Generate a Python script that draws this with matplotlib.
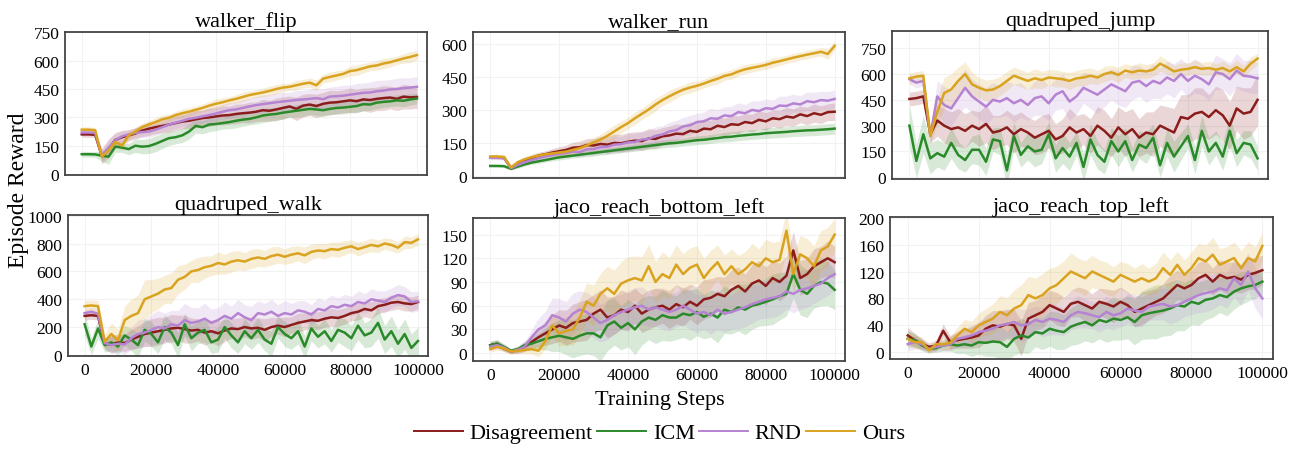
import numpy as np
import matplotlib
matplotlib.use("Agg")
import matplotlib.pyplot as plt
from matplotlib.lines import Line2D

plt.rcParams['font.family'] = ['Liberation Serif', 'DejaVu Serif']

steps = list(range(0, 100001, 2000))
methods = ['Disagreement', 'ICM', 'RND', 'Ours']
colors = {'Disagreement': '#8b1c1c', 'ICM': '#2a8a2a', 'RND': '#b683d2', 'Ours': '#d9a21f'}
tasks = ['walker_flip', 'walker_run', 'quadruped_jump',
         'quadruped_walk', 'jaco_reach_bottom_left', 'jaco_reach_top_left']

# ---- mean curves (every 2000 steps) ----
wf_dis = [210,210,208,95,135,180,195,205,215,230,240,248,255,262,270,278,282,290,296,300,305,310,312,318,322,325,330,338,335,342,350,358,345,362,368,360,372,378,380,385,390,386,395,392,398,402,405,398,410,406,408]
wf_icm = [105,105,104,97,92,145,140,132,150,145,148,160,175,190,195,205,225,255,248,262,265,270,275,282,288,292,300,310,315,318,325,330,335,340,345,342,338,345,350,352,356,360,370,368,378,382,385,390,388,395,400]
wf_rnd = [220,220,218,98,140,178,200,210,218,222,225,235,248,262,272,282,292,298,305,312,320,330,338,342,350,358,365,370,375,380,384,388,392,395,398,402,396,410,412,415,420,425,430,432,438,442,448,450,455,458,462]
wf_ours = [235,235,232,92,125,170,150,205,225,248,262,275,290,298,312,322,330,340,350,362,372,380,390,398,408,418,425,432,440,450,458,462,470,478,484,470,505,514,522,530,545,550,560,570,575,585,592,602,612,620,630]

wr_dis = [85,85,83,36,55,70,80,92,98,106,112,118,128,130,140,138,145,142,150,148,155,160,158,170,168,180,184,192,190,205,200,215,212,228,222,235,232,245,240,255,248,262,258,270,265,280,272,285,278,290,292]
wr_icm = [45,45,44,32,42,52,60,66,72,78,84,88,92,96,100,104,108,112,116,120,124,128,132,136,140,144,148,150,154,158,162,164,168,172,176,178,182,185,188,190,194,196,198,200,203,205,207,208,210,212,215]
wr_rnd = [82,82,80,35,50,62,72,80,88,94,100,104,110,108,120,122,130,132,142,144,152,154,165,168,182,188,202,208,225,230,245,248,262,260,275,272,290,285,300,295,308,305,320,318,330,325,340,335,345,342,350]
wr_ours = [88,88,86,38,62,75,85,92,98,102,106,110,118,126,138,152,165,182,202,222,240,262,282,302,325,345,362,378,392,402,410,420,432,442,455,462,475,485,492,498,505,515,522,530,538,545,552,558,565,555,592]

qj_dis = [455,460,470,250,330,300,280,290,270,300,280,310,260,270,290,250,280,260,230,250,270,220,240,290,260,280,240,300,270,230,290,250,280,230,260,250,300,280,260,350,340,370,380,350,390,360,300,400,370,380,450]
qj_icm = [300,95,250,110,140,120,200,130,100,160,160,90,220,210,40,240,130,180,150,160,250,110,170,120,200,60,220,130,90,210,150,210,100,190,170,230,70,200,120,180,240,100,270,150,200,120,270,140,200,190,110]
qj_rnd = [570,550,560,240,470,420,400,460,520,470,440,410,450,440,460,430,450,420,460,470,430,480,500,440,470,520,500,480,510,540,520,500,550,560,530,560,545,580,560,600,560,590,570,540,610,600,570,620,590,585,575]
qj_ours = [575,585,590,240,380,490,510,560,600,540,520,505,510,530,560,590,575,560,575,565,580,575,570,560,575,580,590,580,600,610,595,620,610,620,615,625,660,640,615,625,630,640,630,635,625,635,615,640,615,660,690]

qw_dis = [280,285,280,80,75,90,85,110,130,150,160,170,180,190,195,185,175,180,160,170,155,175,190,185,200,190,195,180,200,210,200,215,230,240,250,245,260,270,265,280,300,310,330,320,350,360,375,380,370,365,380]
qw_icm = [220,60,190,70,90,60,140,110,70,180,150,90,200,160,70,220,120,160,180,90,110,200,140,90,170,120,180,110,80,200,150,120,170,60,190,130,170,100,180,160,120,210,140,160,230,110,170,80,150,50,100]
qw_rnd = [300,310,295,85,70,80,75,120,150,160,180,200,190,220,210,250,230,240,260,230,250,280,260,300,270,250,300,290,310,280,300,290,320,310,290,330,320,350,340,360,350,380,370,400,390,380,410,430,420,380,385]
qw_ours = [350,355,350,95,150,105,250,280,300,400,420,440,470,480,540,560,600,610,630,640,660,650,670,680,670,690,700,690,710,720,705,720,730,715,740,750,745,760,755,770,780,760,775,790,780,800,790,770,810,805,830]

jbl_dis = [10,12,6,2,4,8,14,20,25,30,35,32,38,40,42,50,55,45,48,55,52,60,50,55,58,60,55,62,58,65,60,68,70,75,72,80,85,78,88,92,85,95,90,98,130,95,100,110,115,120,115]
jbl_icm = [10,12,8,3,5,10,12,15,18,20,22,20,18,22,25,25,20,35,40,32,38,30,40,45,42,48,45,45,50,48,52,46,50,45,55,52,58,55,60,62,65,68,72,75,100,80,75,85,90,88,80]
jbl_rnd = [8,10,7,2,4,8,20,30,35,48,45,40,50,55,52,45,38,42,48,52,55,58,60,55,58,55,52,55,60,55,50,52,48,55,50,52,55,58,62,65,68,70,72,78,75,80,82,85,88,95,100]
jbl_ours = [5,8,6,2,3,4,5,3,15,35,25,28,30,45,65,60,75,82,75,88,92,95,92,110,90,100,95,112,100,108,112,95,106,115,100,110,100,106,115,110,120,115,118,155,100,125,120,110,130,135,150]

jtl_dis = [25,18,12,8,10,32,15,18,20,22,25,35,40,38,42,40,20,50,55,60,70,65,60,72,75,70,65,75,72,68,75,70,60,65,70,75,80,90,100,95,100,110,115,105,115,110,112,108,115,118,122]
jtl_icm = [20,18,10,5,6,10,12,10,12,10,15,14,16,15,8,20,25,22,30,28,35,32,30,38,42,45,40,48,45,50,48,52,45,55,58,60,62,65,70,68,75,72,78,80,85,82,90,95,98,100,105]
jtl_rnd = [12,15,12,5,8,10,12,20,22,25,30,32,35,40,42,45,40,42,48,45,50,48,45,55,60,58,55,52,60,55,58,65,62,60,68,70,72,68,70,75,80,85,88,90,95,92,110,100,120,95,80]
jtl_ours = [20,15,15,3,12,12,14,25,35,30,40,45,50,60,55,65,70,85,80,85,95,100,110,120,115,110,120,115,110,105,115,110,105,110,105,110,125,115,130,115,125,140,135,145,130,135,140,125,140,135,158]

# ---- shaded band half-widths ----
wf_dis_sd = [15,15,15,40,50,40,35,30,30,32,35,35,38,40,40,38,42,45,42,48,45,50,48,52,50,55,52,58,55,60,58,55,62,60,58,62,60,65,62,60,65,62,60,65,62,66,60,62,65,62,60]
wf_icm_sd = [15,15,15,30,40,30,25,30,35,38,40,42,40,38,35,38,40,38,35,38,35,32,35,38,35,32,35,38,35,32,35,30,32,35,30,32,35,30,32,35,30,32,35,30,32,30,28,30,32,30,28]
wf_rnd_sd = [15,15,15,30,40,35,30,25,25,28,30,30,28,30,32,30,35,38,35,40,38,40,42,40,45,42,45,48,45,50,48,45,50,48,52,50,55,50,52,55,50,55,52,55,58,55,52,58,55,52,55]
wf_ours_sd = [15,15,15,20,25,25,25,22,22,20,20,22,22,20,20,22,22,20,20,22,25,22,20,22,25,22,20,22,25,25,22,20,25,22,25,28,22,25,25,22,25,28,25,22,25,28,25,22,25,28,25]

wr_dis_sd = [8,8,8,10,12,12,14,15,16,18,20,22,25,28,30,32,35,38,40,40,42,40,42,45,42,40,42,45,42,40,42,45,40,42,40,42,40,38,40,42,40,38,40,42,40,38,40,42,40,38,40]
wr_icm_sd = [5,5,5,6,8,8,8,10,10,10,12,12,12,12,14,14,14,15,15,15,16,16,16,16,18,18,18,18,18,20,20,20,20,20,22,22,22,22,22,22,24,24,24,24,24,25,25,25,25,25,25]
wr_rnd_sd = [8,8,8,10,12,12,12,14,14,15,16,18,20,22,25,28,30,32,35,35,38,40,38,40,42,40,42,45,42,45,40,42,45,42,40,45,42,40,42,45,42,40,42,45,42,40,42,45,40,42,40]
wr_ours_sd = [8,8,8,10,12,12,12,12,12,14,14,15,16,18,20,22,25,28,30,28,26,28,25,28,30,25,28,25,22,25,22,20,22,24,20,22,20,22,20,18,20,22,20,18,20,18,20,18,20,25,20]

qj_dis_sd = [40,40,40,50,90,100,100,110,100,90,100,110,100,90,100,110,100,90,100,110,100,90,100,110,100,90,100,110,120,110,120,130,120,110,120,130,120,130,140,130,140,150,140,130,140,150,140,130,150,140,150]
qj_icm_sd = [120,100,110,90,80,80,90,80,70,80,90,80,70,80,90,80,70,80,90,80,70,80,90,80,70,80,90,80,70,80,90,80,70,80,90,80,70,80,90,80,70,80,90,80,70,80,90,80,70,80,70]
qj_rnd_sd = [30,30,30,50,90,110,100,100,110,100,100,110,100,90,100,110,100,90,100,110,100,90,100,110,100,90,100,110,100,90,100,95,100,90,95,100,90,95,100,90,95,100,90,95,100,90,95,100,90,95,90]
qj_ours_sd = [30,30,30,40,80,90,90,80,70,70,60,60,60,55,55,50,50,50,55,50,45,50,45,50,45,50,45,40,45,40,45,40,40,45,40,40,45,40,35,40,35,40,35,40,35,40,35,40,35,40,30]

qw_dis_sd = [30,30,30,40,60,60,60,70,80,90,100,100,90,100,90,100,90,80,90,80,90,80,70,80,70,80,70,80,70,60,70,60,70,60,60,65,60,65,60,60,55,60,55,60,55,50,55,50,55,50,50]
qw_icm_sd = [80,60,70,50,60,60,70,80,90,80,90,80,90,80,90,80,90,80,90,80,90,80,90,80,90,80,90,80,90,80,90,80,90,80,90,80,90,80,90,100,90,100,90,100,110,100,110,100,110,100,100]
qw_rnd_sd = [30,30,30,40,60,60,70,80,100,100,110,120,110,100,110,120,110,100,110,100,90,100,90,100,90,100,90,80,90,80,90,80,70,80,70,80,70,80,70,75,70,80,70,75,70,80,70,75,70,75,70]
qw_ours_sd = [40,40,40,50,80,80,100,120,130,140,120,110,100,110,100,90,80,90,80,70,80,70,75,70,65,70,65,60,65,60,55,60,55,60,55,50,55,50,55,50,45,50,45,50,45,40,45,40,45,40,40]

jbl_dis_sd = [5,5,4,3,4,6,8,12,15,18,20,22,24,25,26,24,25,26,24,25,24,22,24,25,24,22,24,25,24,22,24,25,24,22,24,25,24,22,24,25,24,22,24,25,24,22,20,22,20,22,20]
jbl_icm_sd = [5,5,4,3,4,6,8,10,14,18,20,22,24,25,26,28,30,32,30,28,30,32,30,28,30,32,30,28,30,32,30,28,30,32,30,28,30,32,30,28,30,32,30,28,30,32,30,28,30,28,25]
jbl_rnd_sd = [5,5,4,3,4,6,10,14,18,22,24,25,26,24,25,26,24,25,24,22,24,25,24,22,24,25,24,22,24,25,24,22,24,25,24,22,24,25,24,22,24,25,24,22,24,25,24,22,20,22,20]
jbl_ours_sd = [4,4,4,3,4,5,6,8,10,14,16,18,20,22,24,26,26,28,30,28,30,28,30,28,26,28,26,25,26,25,24,25,24,22,24,22,24,22,24,22,24,25,24,26,25,24,25,26,25,24,20]

jtl_dis_sd = [12,10,8,6,8,10,10,12,14,16,18,20,22,24,22,24,26,24,22,24,22,24,22,20,22,24,22,20,22,24,22,20,22,24,22,20,22,24,22,20,22,24,22,20,22,24,22,20,22,24,22]
jtl_icm_sd = [12,10,8,6,6,8,10,12,14,16,18,20,22,24,22,24,26,24,22,24,26,28,26,28,30,28,26,28,30,32,30,32,34,36,38,40,38,40,38,36,34,32,30,28,26,28,26,24,22,20,18]
jtl_rnd_sd = [10,10,8,6,6,8,10,12,14,15,16,18,20,22,20,22,24,22,20,22,24,22,20,22,24,22,20,22,24,22,20,22,24,22,20,22,24,26,24,22,24,26,28,26,24,26,28,30,28,30,30]
jtl_ours_sd = [10,10,8,5,6,8,10,12,14,16,18,20,22,24,26,28,30,28,30,32,30,28,26,28,25,26,24,22,24,22,20,22,20,22,20,22,24,22,20,22,24,22,24,26,24,22,24,26,24,22,20]

means = {
    'walker_flip': [wf_dis, wf_icm, wf_rnd, wf_ours],
    'walker_run': [wr_dis, wr_icm, wr_rnd, wr_ours],
    'quadruped_jump': [qj_dis, qj_icm, qj_rnd, qj_ours],
    'quadruped_walk': [qw_dis, qw_icm, qw_rnd, qw_ours],
    'jaco_reach_bottom_left': [jbl_dis, jbl_icm, jbl_rnd, jbl_ours],
    'jaco_reach_top_left': [jtl_dis, jtl_icm, jtl_rnd, jtl_ours],
}
spreads = {
    'walker_flip': [wf_dis_sd, wf_icm_sd, wf_rnd_sd, wf_ours_sd],
    'walker_run': [wr_dis_sd, wr_icm_sd, wr_rnd_sd, wr_ours_sd],
    'quadruped_jump': [qj_dis_sd, qj_icm_sd, qj_rnd_sd, qj_ours_sd],
    'quadruped_walk': [qw_dis_sd, qw_icm_sd, qw_rnd_sd, qw_ours_sd],
    'jaco_reach_bottom_left': [jbl_dis_sd, jbl_icm_sd, jbl_rnd_sd, jbl_ours_sd],
    'jaco_reach_top_left': [jtl_dis_sd, jtl_icm_sd, jtl_rnd_sd, jtl_ours_sd],
}
yticks = {
    'walker_flip': [0, 150, 300, 450, 600, 750],
    'walker_run': [0, 150, 300, 450, 600],
    'quadruped_jump': [0, 150, 300, 450, 600, 750],
    'quadruped_walk': [0, 200, 400, 600, 800, 1000],
    'jaco_reach_bottom_left': [0, 30, 60, 90, 120, 150],
    'jaco_reach_top_left': [0, 40, 80, 120, 160, 200],
}
ylims = {
    'walker_flip': (-5, 752),
    'walker_run': (-10, 655),
    'quadruped_jump': (-10, 850),
    'quadruped_walk': (-8, 1005),
    'jaco_reach_bottom_left': (-10, 171),
    'jaco_reach_top_left': (-10, 201),
}
xticks = [0, 20000, 40000, 60000, 80000, 100000]

W, H = 1298, 452
# axes boxes in pixels: left, top, right, bottom
boxes = [(65, 33, 427, 176), (473, 33, 845, 179), (892, 32, 1268, 180),
         (68, 216, 428, 357), (473, 219, 845, 362), (890, 218, 1273, 360)]

fig = plt.figure(figsize=(W / 100, H / 100), dpi=100)
x = np.array(steps)

for i, task in enumerate(tasks):
    l, t, r, b = boxes[i]
    ax = fig.add_axes([l / W, 1 - b / H, (r - l) / W, (b - t) / H])
    for m, mu, sd in zip(methods, means[task], spreads[task]):
        mu = np.array(mu, dtype=float)
        sd = np.array(sd, dtype=float)
        ax.plot(x, mu, color=colors[m], linewidth=1.8)
        ax.fill_between(x, mu - sd, mu + sd, color=colors[m], alpha=0.18, linewidth=0)
    ax.set_xlim(-5000, 103000)
    ax.set_ylim(*ylims[task])
    ax.set_yticks(yticks[task])
    ax.set_xticks(xticks)
    ax.grid(True, color='#f2f2f2', linewidth=0.8)
    ax.set_axisbelow(True)
    ax.tick_params(length=0, labelsize=12.5, pad=4)
    if i < 3:
        ax.tick_params(labelbottom=False)
    for s in ax.spines.values():
        s.set_color('#444444')
        s.set_linewidth(1.3)
    ax.set_title(task, fontsize=16, pad=4)

fig.text(0.014, 1 - 190 / H, 'Episode Reward', rotation=90, ha='center', va='center', fontsize=17)
fig.text(0.508, 1 - 401 / H, 'Training Steps', ha='center', va='center', fontsize=16)

handles = [Line2D([], [], color=colors[m], linewidth=1.4) for m in methods]
fig.legend(handles, methods, loc='center', bbox_to_anchor=(0.508, 1 - 434 / H), ncol=4,
           frameon=False, fontsize=16, handlelength=2.2, handletextpad=0.3, columnspacing=0.2)

plt.savefig('out.png', dpi=100)
